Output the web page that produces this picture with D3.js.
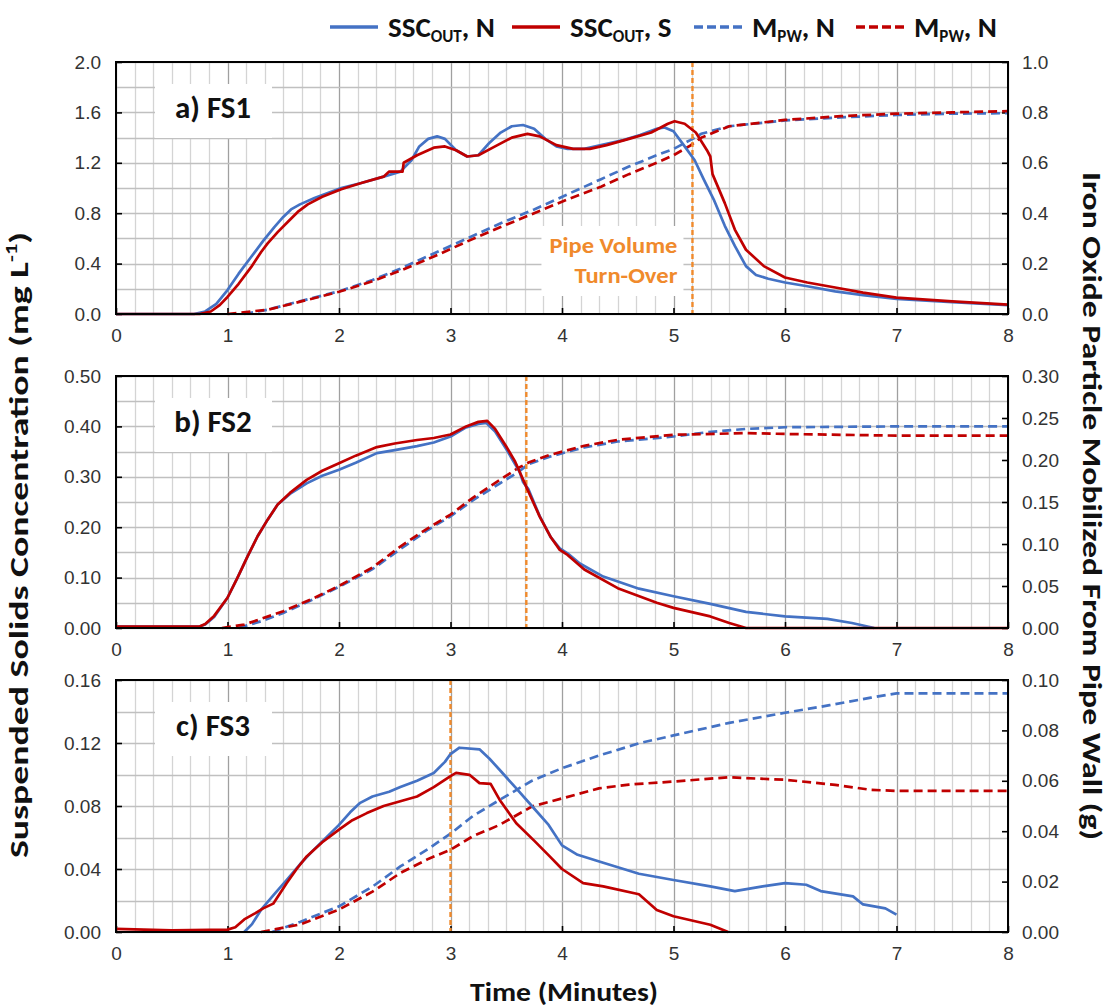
<!DOCTYPE html>
<html>
<head>
<meta charset="utf-8">
<script src="https://cdn.jsdelivr.net/npm/d3@7"></script>
<style>
  body { margin: 0; background: #fff; }
  svg { display: block; font-family: Carlito, Calibri, Lato, sans-serif; }
</style>
</head>
<body>
<div id="chart"></div>
<script>
// data: [time (min), value]
const fs1SscN = [[0,0],[0.7,0],[0.8,0.02],[0.9,0.08],[1.0,0.19],[1.1,0.32],[1.21,0.45],[1.32,0.58],[1.42,0.69],[1.5,0.77],[1.57,0.83],[1.65,0.87],[1.78,0.92],[1.9,0.96],[2.02,1.0],[2.2,1.04],[2.4,1.09],[2.55,1.13],[2.65,1.22],[2.72,1.33],[2.8,1.39],[2.88,1.41],[2.95,1.39],[3.05,1.3],[3.15,1.25],[3.25,1.26],[3.35,1.36],[3.45,1.44],[3.55,1.49],[3.65,1.5],[3.75,1.47],[3.85,1.39],[3.95,1.33],[4.05,1.31],[4.2,1.31],[4.35,1.34],[4.55,1.38],[4.7,1.42],[4.85,1.47],[4.92,1.48],[5.0,1.45],[5.1,1.33],[5.19,1.22],[5.27,1.07],[5.36,0.91],[5.46,0.7],[5.55,0.54],[5.65,0.38],[5.74,0.31],[5.85,0.28],[6.0,0.25],[6.2,0.22],[6.45,0.18],[6.7,0.15],[7.0,0.12],[7.5,0.095],[8.0,0.07]];
const fs1SscS = [[0,0],[0.75,0],[0.85,0.02],[0.93,0.07],[1.0,0.135],[1.1,0.24],[1.21,0.37],[1.3,0.49],[1.36,0.56],[1.45,0.65],[1.54,0.73],[1.63,0.81],[1.72,0.87],[1.85,0.93],[2.02,0.99],[2.2,1.04],[2.4,1.09],[2.45,1.13],[2.57,1.13],[2.58,1.2],[2.7,1.26],[2.85,1.32],[2.95,1.33],[3.05,1.3],[3.15,1.25],[3.25,1.26],[3.4,1.33],[3.55,1.4],[3.69,1.43],[3.8,1.41],[3.95,1.34],[4.1,1.31],[4.25,1.31],[4.4,1.34],[4.6,1.39],[4.8,1.44],[4.95,1.51],[5.01,1.53],[5.1,1.51],[5.2,1.44],[5.3,1.3],[5.33,1.25],[5.35,1.11],[5.46,0.88],[5.55,0.67],[5.65,0.51],[5.81,0.38],[6.0,0.29],[6.2,0.25],[6.45,0.21],[6.7,0.17],[7.0,0.13],[7.5,0.1],[8.0,0.075]];
const fs1MpwN = [[1.15,0],[1.36,0.017],[1.6,0.045],[2.0,0.09],[2.3,0.135],[2.55,0.18],[2.85,0.24],[3.15,0.3],[3.45,0.36],[3.75,0.415],[4.05,0.475],[4.35,0.535],[4.6,0.585],[4.85,0.63],[5.0,0.655],[5.15,0.69],[5.25,0.715],[5.5,0.745],[6.0,0.768],[6.5,0.78],[7.0,0.79],[7.5,0.795],[8.0,0.797]];
const fs1MpwS = [[1.0,0],[1.36,0.017],[1.6,0.043],[2.0,0.088],[2.3,0.13],[2.55,0.172],[2.85,0.228],[3.15,0.288],[3.45,0.345],[3.75,0.4],[4.05,0.455],[4.35,0.505],[4.6,0.555],[4.85,0.6],[5.0,0.63],[5.15,0.668],[5.25,0.7],[5.5,0.745],[6.0,0.77],[6.5,0.785],[7.0,0.795],[7.5,0.8],[8.0,0.805]];

const fs2SscN = [[0,0.003],[0.75,0.003],[0.8,0.007],[0.88,0.022],[1.0,0.06],[1.09,0.1],[1.18,0.142],[1.27,0.182],[1.36,0.215],[1.45,0.245],[1.56,0.266],[1.71,0.287],[1.85,0.302],[2.0,0.314],[2.15,0.328],[2.34,0.347],[2.5,0.353],[2.7,0.361],[2.85,0.368],[3.0,0.38],[3.14,0.398],[3.25,0.405],[3.32,0.407],[3.4,0.39],[3.5,0.355],[3.58,0.325],[3.62,0.31],[3.65,0.29],[3.7,0.275],[3.8,0.222],[3.9,0.18],[3.98,0.158],[4.05,0.148],[4.16,0.128],[4.37,0.102],[4.69,0.078],[5.0,0.063],[5.33,0.048],[5.65,0.032],[6.0,0.023],[6.38,0.018],[6.6,0.01],[6.8,0.0]];
const fs2SscS = [[0,0.003],[0.75,0.003],[0.8,0.008],[0.88,0.024],[1.0,0.06],[1.09,0.1],[1.18,0.142],[1.27,0.182],[1.36,0.215],[1.45,0.245],[1.56,0.268],[1.71,0.294],[1.85,0.312],[2.0,0.327],[2.15,0.342],[2.34,0.359],[2.5,0.366],[2.7,0.373],[2.85,0.377],[3.0,0.384],[3.14,0.4],[3.25,0.409],[3.33,0.411],[3.4,0.395],[3.5,0.36],[3.58,0.33],[3.63,0.305],[3.68,0.28],[3.8,0.221],[3.9,0.18],[3.98,0.155],[4.05,0.145],[4.2,0.116],[4.5,0.079],[4.85,0.05],[5.0,0.04],[5.33,0.023],[5.5,0.01],[5.65,0],[8.0,0]];
const fs2MpwN = [[1.1,0],[1.3,0.008],[1.5,0.018],[1.75,0.033],[2.0,0.049],[2.3,0.07],[2.55,0.094],[2.8,0.117],[3.0,0.133],[3.2,0.152],[3.44,0.172],[3.6,0.185],[3.7,0.195],[3.89,0.204],[4.2,0.215],[4.5,0.222],[5.0,0.228],[5.3,0.233],[5.65,0.237],[6.0,0.239],[7.0,0.24],[8.0,0.24]];
const fs2MpwS = [[0.95,0],[1.15,0.004],[1.5,0.02],[1.75,0.034],[2.0,0.05],[2.3,0.072],[2.55,0.097],[2.8,0.119],[3.0,0.135],[3.2,0.155],[3.44,0.176],[3.6,0.19],[3.7,0.197],[3.89,0.206],[4.2,0.217],[4.5,0.224],[5.0,0.23],[5.65,0.232],[6.0,0.231],[7.0,0.229],[8.0,0.229]];

const fs3SscN = [[1.15,0],[1.22,0.005],[1.3,0.014],[1.42,0.024],[1.53,0.033],[1.65,0.043],[1.77,0.052],[1.9,0.061],[2.0,0.068],[2.1,0.076],[2.19,0.082],[2.3,0.086],[2.45,0.089],[2.55,0.092],[2.7,0.096],[2.85,0.101],[2.95,0.108],[3.0,0.113],[3.08,0.117],[3.26,0.116],[3.35,0.11],[3.44,0.103],[3.58,0.092],[3.73,0.08],[3.88,0.068],[4.0,0.055],[4.14,0.049],[4.37,0.044],[4.69,0.037],[5.0,0.033],[5.33,0.029],[5.55,0.026],[5.8,0.029],[6.0,0.031],[6.19,0.030],[6.32,0.026],[6.61,0.0226],[6.7,0.0175],[6.9,0.015],[7.0,0.011]];
const fs3SscS = [[0,0.002],[0.5,0.001],[1.0,0.0015],[1.07,0.003],[1.15,0.008],[1.25,0.012],[1.32,0.015],[1.41,0.018],[1.53,0.031],[1.62,0.04],[1.71,0.048],[1.85,0.057],[2.0,0.065],[2.12,0.071],[2.25,0.0755],[2.4,0.08],[2.55,0.083],[2.7,0.086],[2.85,0.092],[3.0,0.099],[3.05,0.101],[3.17,0.0998],[3.26,0.0945],[3.36,0.094],[3.44,0.084],[3.59,0.069],[3.75,0.058],[3.89,0.048],[4.0,0.04],[4.19,0.031],[4.37,0.029],[4.69,0.024],[4.85,0.014],[5.0,0.01],[5.33,0.0046],[5.49,0]];
const fs3MpwN = [[1.4,0],[1.65,0.004],[2.0,0.0102],[2.3,0.018],[2.55,0.026],[2.8,0.033],[3.0,0.039],[3.2,0.046],[3.44,0.0524],[3.73,0.06],[4.0,0.065],[4.33,0.07],[4.7,0.075],[5.0,0.078],[5.5,0.083],[6.0,0.087],[6.4,0.09],[6.77,0.093],[7.0,0.0947],[8.0,0.0947]];
const fs3MpwS = [[1.3,0],[1.65,0.003],[2.0,0.0089],[2.3,0.016],[2.55,0.0234],[2.8,0.029],[3.0,0.0326],[3.2,0.038],[3.44,0.0425],[3.73,0.0498],[4.0,0.053],[4.33,0.057],[4.6,0.0585],[5.0,0.0597],[5.49,0.0614],[6.0,0.0604],[6.45,0.0584],[6.77,0.0564],[7.0,0.056],[8.0,0.056]];

const panelLabels = ['a) FS1', 'b) FS2', 'c) FS3'];
const turnOver = [5.17, 3.68, 3.0];          // pipe volume turn-over time (min)
const leftMax = [2.0, 0.5, 0.16];
const leftStep = [0.4, 0.1, 0.04];
const leftGrid = [0.2, 0.05, 0.02];
const rightMax = [1.0, 0.30, 0.10];
const rightStep = [0.2, 0.05, 0.02];
const tickFmt = ['.1f', '.2f', '.2f'];
const xTicks = [0, 1, 2, 3, 4, 5, 6, 7, 8];
const legendItems = [
  { main: 'SSC', sub: 'OUT', tail: ', N', color: '#4472C4', dash: null },
  { main: 'SSC', sub: 'OUT', tail: ', S', color: '#C00000', dash: null },
  { main: 'M', sub: 'PW', tail: ', N', color: '#4472C4', dash: '9,4' },
  { main: 'M', sub: 'PW', tail: ', N', color: '#C00000', dash: '9,4' }
];

const series = [
  { ssc: [fs1SscN, fs1SscS], mpw: [fs1MpwN, fs1MpwS] },
  { ssc: [fs2SscN, fs2SscS], mpw: [fs2MpwN, fs2MpwS] },
  { ssc: [fs3SscN, fs3SscS], mpw: [fs3MpwN, fs3MpwS] }
];

const W = 1110, H = 1008;
const left = 116, right = 1008, ph = 252;
const tops = [62, 376, 680];
const blue = '#4472C4', red = '#C00000', orange = '#F08A2C';

const svg = d3.select('#chart').append('svg')
  .attr('width', W).attr('height', H);

const x = d3.scaleLinear().domain([0, 8]).range([left, right]);
const snap = v => Math.round(v) + 0.5;

series.forEach((s, i) => {
  const top = tops[i], bottom = top + ph;
  const y = d3.scaleLinear().domain([0, leftMax[i]]).range([bottom, top]);
  const y2 = d3.scaleLinear().domain([0, rightMax[i]]).range([bottom, top]);
  const g = svg.append('g').attr('class', 'panel');

  // vertical grid every 10 s, darker at whole minutes
  const xg = d3.range(0, 49).map(k => k / 6);
  g.append('g').selectAll('line').data(xg).join('line')
    .attr('x1', d => snap(x(d))).attr('x2', d => snap(x(d)))
    .attr('y1', top).attr('y2', bottom)
    .attr('stroke', (d, k) => k % 6 === 0 ? '#a0a0a0' : '#d4d4d4')
    .attr('stroke-width', 1.3);

  const nY = Math.round(leftMax[i] / leftGrid[i]);
  const yg = d3.range(0, nY + 1).map(k => k * leftGrid[i]);
  g.append('g').selectAll('line').data(yg).join('line')
    .attr('x1', left).attr('x2', right)
    .attr('y1', d => snap(y(d))).attr('y2', d => snap(y(d)))
    .attr('stroke', '#c0c0c0')
    .attr('stroke-width', 1.3);

  // axes
  const fmt = d3.format(tickFmt[i]);
  const lTicks = d3.range(0, Math.round(leftMax[i] / leftStep[i]) + 1).map(k => k * leftStep[i]);
  const rTicks = d3.range(0, Math.round(rightMax[i] / rightStep[i]) + 1).map(k => k * rightStep[i]);

  const xAxis = d3.axisBottom(x).tickValues(xTicks).tickFormat(d3.format('d'))
    .tickSizeInner(-6).tickSizeOuter(0).tickPadding(15);
  const yAxis = d3.axisLeft(y).tickValues(lTicks).tickFormat(fmt)
    .tickSizeInner(-6).tickSizeOuter(0).tickPadding(15);
  const y2Axis = d3.axisRight(y2).tickValues(rTicks).tickFormat(fmt)
    .tickSizeInner(-6).tickSizeOuter(0).tickPadding(14);

  [[xAxis, `translate(0,${bottom})`], [yAxis, `translate(${left},0)`], [y2Axis, `translate(${right},0)`]]
    .forEach(([ax, tr]) => {
      const a = g.append('g').attr('transform', tr).call(ax);
      a.select('.domain').remove();
      a.selectAll('line').attr('stroke', '#000').attr('stroke-width', 1.6);
      a.selectAll('text').attr('font-size', 19).attr('fill', '#333');
    });

  // panel label box
  const lb = g.append('g');
  lb.append('rect').attr('x', left + 39).attr('y', top + 22).attr('width', 117).attr('height', 54).attr('fill', '#fff');
  lb.append('text').attr('x', left + 97).attr('y', top + 56).attr('text-anchor', 'middle')
    .attr('font-size', 31).attr('font-weight', 700).attr('fill', '#111').text(panelLabels[i]);

  if (i === 0) {
    const tx = x(turnOver[i]) - 15;
    g.append('rect').attr('x', tx - 136).attr('y', top + 164).attr('width', 142).attr('height', 70).attr('fill', '#fff');
    g.append('text').attr('x', tx).attr('y', top + 191).attr('text-anchor', 'end')
      .attr('font-size', 22).attr('font-weight', 700).attr('fill', orange)
      .attr('textLength', 128).attr('lengthAdjust', 'spacingAndGlyphs').text('Pipe Volume');
    g.append('text').attr('x', tx).attr('y', top + 221).attr('text-anchor', 'end')
      .attr('font-size', 22).attr('font-weight', 700).attr('fill', orange)
      .attr('textLength', 103).attr('lengthAdjust', 'spacingAndGlyphs').text('Turn-Over');
  }

  // series
  const lineL = d3.line().x(d => x(d[0])).y(d => y(d[1]));
  const lineR = d3.line().x(d => x(d[0])).y(d => y2(d[1]));
  const cols = [blue, red];

  s.mpw.forEach((d, k) => {
    g.append('path').datum(d).attr('d', lineR).attr('fill', 'none')
      .attr('stroke', cols[k]).attr('stroke-width', 2.7).attr('stroke-dasharray', '9,5');
  });

  g.append('line')
    .attr('x1', x(turnOver[i])).attr('x2', x(turnOver[i]))
    .attr('y1', top).attr('y2', bottom)
    .attr('stroke', orange).attr('stroke-width', 2.4).attr('stroke-dasharray', '5,3');

  s.ssc.forEach((d, k) => {
    g.append('path').datum(d).attr('d', lineL).attr('fill', 'none')
      .attr('stroke', cols[k]).attr('stroke-width', 2.7).attr('stroke-linejoin', 'round');
  });

  // frame
  g.append('rect').attr('x', left).attr('y', top).attr('width', right - left).attr('height', ph)
    .attr('fill', 'none').attr('stroke', '#000').attr('stroke-width', 2);
});

// legend, placed where the reference puts each key
const legendX = [330, 512, 694, 856];
const leg = svg.append('g').attr('class', 'legend');
legendItems.forEach((it, k) => {
  const lx = legendX[k];
  leg.append('line').attr('x1', lx).attr('x2', lx + 48).attr('y1', 27).attr('y2', 27)
    .attr('stroke', it.color).attr('stroke-width', 3.5)
    .attr('stroke-dasharray', it.dash);
  const t = leg.append('text').attr('x', lx + 58).attr('y', 37)
    .attr('font-size', 29).attr('font-weight', 700).attr('fill', '#111');
  t.append('tspan').text(it.main);
  t.append('tspan').attr('font-size', 17).attr('dy', 5).text(it.sub);
  t.append('tspan').attr('dy', -5).text(it.tail);
});

// axis titles
svg.append('text').attr('transform', 'translate(28,545) rotate(-90)')
  .attr('text-anchor', 'middle').attr('font-size', 27).attr('font-weight', 700).attr('fill', '#111')
  .attr('textLength', 626).attr('lengthAdjust', 'spacingAndGlyphs')
  .call(t => {
    t.append('tspan').text('Suspended Solids Concentration (mg L');
    t.append('tspan').attr('font-size', 16).attr('dy', -11).text('-1');
    t.append('tspan').attr('dy', 11).text(')');
  });

svg.append('text').attr('transform', 'translate(1083,506) rotate(90)')
  .attr('text-anchor', 'middle').attr('font-size', 26).attr('font-weight', 700).attr('fill', '#111')
  .attr('textLength', 668).attr('lengthAdjust', 'spacingAndGlyphs')
  .text('Iron Oxide Particle Mobilized From Pipe Wall (g)');

svg.append('text').attr('x', 564).attr('y', 1001).attr('text-anchor', 'middle')
  .attr('font-size', 27).attr('font-weight', 700).attr('fill', '#111')
  .attr('textLength', 188).attr('lengthAdjust', 'spacingAndGlyphs')
  .text('Time (Minutes)');
</script>
</body>
</html>
